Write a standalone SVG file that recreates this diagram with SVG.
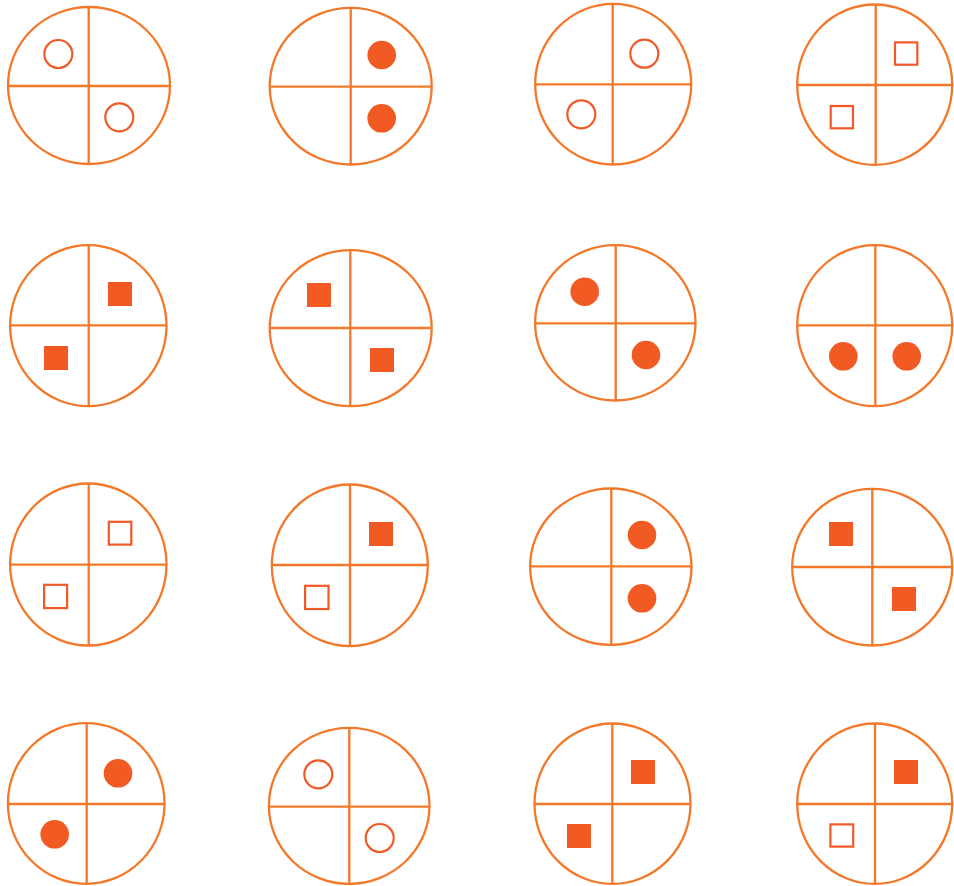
<svg xmlns="http://www.w3.org/2000/svg" width="954" height="886" viewBox="0 0 954 886">
<style>
.ring{fill:none;stroke:#f37829;stroke-width:2.3}
.div{stroke:#f37829;stroke-width:2.3}
.oc{fill:none;stroke:#f05a28;stroke-width:2.2}
.fc{fill:#f15a22}
.os{fill:none;stroke:#f05a28;stroke-width:2.2}
</style>
<rect width="954" height="886" fill="#ffffff"/>
<g id="c1">
<ellipse class="ring" cx="89" cy="85.5" rx="81" ry="78.5"/>
<line class="div" x1="88.7" y1="7" x2="88.7" y2="164"/>
<line class="div" x1="8" y1="86" x2="170" y2="86"/>
<circle class="oc" cx="58.3" cy="54" r="14"/>
<circle class="oc" cx="119.3" cy="117.3" r="14"/>
</g>
<g id="c2">
<ellipse class="ring" cx="350.7" cy="86.2" rx="81" ry="78.3"/>
<line class="div" x1="350.7" y1="8" x2="350.7" y2="164.5"/>
<line class="div" x1="269.7" y1="86.7" x2="431.7" y2="86.7"/>
<circle class="fc" cx="381.7" cy="55" r="14.3"/>
<circle class="fc" cx="381.7" cy="118.3" r="14.3"/>
</g>
<g id="c3">
<ellipse class="ring" cx="613.2" cy="84.2" rx="78" ry="80.3"/>
<line class="div" x1="612.7" y1="4" x2="612.7" y2="164.5"/>
<line class="div" x1="535.2" y1="84.3" x2="691.2" y2="84.3"/>
<circle class="oc" cx="644.3" cy="53.7" r="14"/>
<circle class="oc" cx="581.3" cy="114.3" r="14"/>
</g>
<g id="c4">
<ellipse class="ring" cx="874.7" cy="84.7" rx="77.5" ry="80.2"/>
<line class="div" x1="875.7" y1="4.5" x2="875.7" y2="165"/>
<line class="div" x1="797.2" y1="85" x2="952.2" y2="85"/>
<rect class="os" x="895" y="42.4" width="22.3" height="22.3"/>
<rect class="os" x="830.7" y="106" width="22.3" height="22.3"/>
</g>
<g id="c5">
<ellipse class="ring" cx="88.3" cy="325.7" rx="78.2" ry="80.5"/>
<line class="div" x1="88.7" y1="245.2" x2="88.7" y2="406.2"/>
<line class="div" x1="10.1" y1="325.3" x2="166.5" y2="325.3"/>
<rect class="fc" x="108" y="282" width="24" height="24"/>
<rect class="fc" x="44" y="346" width="24" height="24"/>
</g>
<g id="c6">
<ellipse class="ring" cx="350.7" cy="328.2" rx="81" ry="78"/>
<line class="div" x1="350.3" y1="250.2" x2="350.3" y2="406.2"/>
<line class="div" x1="269.7" y1="328" x2="431.7" y2="328"/>
<rect class="fc" x="307" y="283" width="24" height="24"/>
<rect class="fc" x="370" y="348" width="24" height="24"/>
</g>
<g id="c7">
<ellipse class="ring" cx="615.3" cy="322.8" rx="80.2" ry="77.7"/>
<line class="div" x1="615.7" y1="245.1" x2="615.7" y2="400.5"/>
<line class="div" x1="535.1" y1="323.3" x2="695.5" y2="323.3"/>
<circle class="fc" cx="584.7" cy="291.7" r="14.3"/>
<circle class="fc" cx="646" cy="355" r="14.3"/>
</g>
<g id="c8">
<ellipse class="ring" cx="874.7" cy="325.7" rx="77.5" ry="80.5"/>
<line class="div" x1="875.3" y1="245.2" x2="875.3" y2="406.2"/>
<line class="div" x1="797.2" y1="325.3" x2="952.2" y2="325.3"/>
<circle class="fc" cx="843.3" cy="356.3" r="14.3"/>
<circle class="fc" cx="906.7" cy="356.3" r="14.3"/>
</g>
<g id="c9">
<ellipse class="ring" cx="88.3" cy="564.5" rx="78.2" ry="81"/>
<line class="div" x1="88.7" y1="483.5" x2="88.7" y2="645.5"/>
<line class="div" x1="10.1" y1="564.7" x2="166.5" y2="564.7"/>
<rect class="os" x="108.8" y="521.8" width="22.5" height="22.8"/>
<rect class="os" x="44.1" y="584.8" width="23" height="23.3"/>
</g>
<g id="c10">
<ellipse class="ring" cx="349.8" cy="565.3" rx="78" ry="80.8"/>
<line class="div" x1="350" y1="484.5" x2="350" y2="646.1"/>
<line class="div" x1="271.8" y1="565" x2="427.8" y2="565"/>
<rect class="fc" x="369" y="522" width="24" height="24"/>
<rect class="os" x="305.1" y="585.8" width="23.4" height="23.2"/>
</g>
<g id="c11">
<ellipse class="ring" cx="610.8" cy="566.7" rx="80.7" ry="78.2"/>
<line class="div" x1="611.3" y1="488.5" x2="611.3" y2="644.9"/>
<line class="div" x1="530.1" y1="566.3" x2="691.5" y2="566.3"/>
<circle class="fc" cx="642" cy="535" r="14.3"/>
<circle class="fc" cx="642" cy="598.3" r="14.3"/>
</g>
<g id="c12">
<ellipse class="ring" cx="872.2" cy="567.2" rx="80" ry="78.3"/>
<line class="div" x1="872.3" y1="488.9" x2="872.3" y2="645.5"/>
<line class="div" x1="792.2" y1="567" x2="952.2" y2="567"/>
<rect class="fc" x="829" y="522" width="24" height="24"/>
<rect class="fc" x="892" y="587" width="24" height="24"/>
</g>
<g id="c13">
<ellipse class="ring" cx="86.2" cy="803.5" rx="78.3" ry="80.3"/>
<line class="div" x1="86.7" y1="723.2" x2="86.7" y2="883.8"/>
<line class="div" x1="7.9" y1="804" x2="164.5" y2="804"/>
<circle class="fc" cx="118" cy="773.3" r="14.3"/>
<circle class="fc" cx="54.7" cy="834.3" r="14.3"/>
</g>
<g id="c14">
<ellipse class="ring" cx="349.2" cy="805.8" rx="80.3" ry="78"/>
<line class="div" x1="349.3" y1="727.8" x2="349.3" y2="883.8"/>
<line class="div" x1="268.9" y1="806.7" x2="429.5" y2="806.7"/>
<circle class="oc" cx="318.3" cy="774.3" r="14"/>
<circle class="oc" cx="379.7" cy="838" r="14"/>
</g>
<g id="c15">
<ellipse class="ring" cx="612.5" cy="803.7" rx="78" ry="80.2"/>
<line class="div" x1="612.3" y1="723.5" x2="612.3" y2="883.9"/>
<line class="div" x1="534.5" y1="804" x2="690.5" y2="804"/>
<rect class="fc" x="631" y="760" width="24" height="24"/>
<rect class="fc" x="567" y="824" width="24" height="24"/>
</g>
<g id="c16">
<ellipse class="ring" cx="874.7" cy="803.7" rx="77.5" ry="80.2"/>
<line class="div" x1="875" y1="723.5" x2="875" y2="883.9"/>
<line class="div" x1="797.2" y1="804" x2="952.2" y2="804"/>
<rect class="fc" x="894" y="760" width="24" height="24"/>
<rect class="os" x="830.4" y="824.4" width="22.8" height="22.2"/>
</g>
</svg>
